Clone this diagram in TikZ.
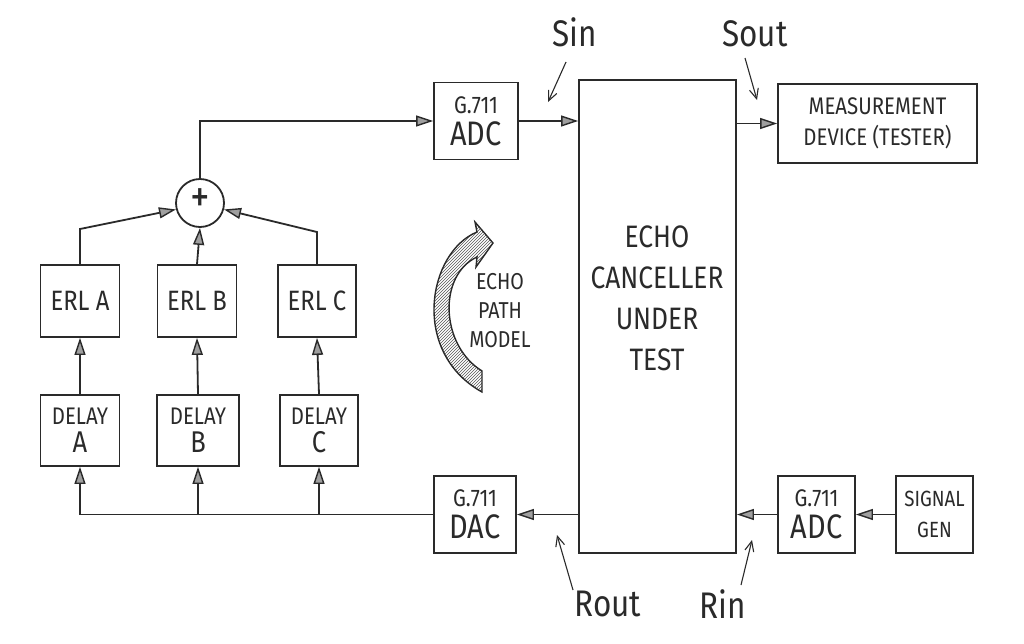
\documentclass[tikz,border=0pt]{standalone}
\usepackage{fontspec}
\setmainfont[FakeStretch=0.85]{Fira Sans}
\usetikzlibrary{arrows.meta,patterns}
\definecolor{ink}{HTML}{2A2A2A}
\begin{document}
\begin{tikzpicture}[x=1pt,y=-1pt,
  pencil/.style={draw=ink, line width=1.8pt},
  box/.style={pencil, align=center, inner sep=0pt, text=ink},
  arr/.style={pencil, -{Triangle[length=17pt,width=11pt,line width=1.4pt,fill=ink!45]}},
  ptr/.style={draw=ink, line width=1.1pt, -{Straight Barb[length=10pt,width=9pt]}},
  lbl/.style={text=ink, inner sep=0pt, font=\fontsize{37}{40}\selectfont},
]
\useasboundingbox (0,0) rectangle (1024,643);

% main blocks
\node[box, minimum width=84pt, minimum height=77pt] (adc1) at (476,121)
  {{\fontsize{24}{28}\selectfont G.711}\\[7pt]{\fontsize{34}{36}\selectfont ADC}};
\node[box, minimum width=157pt, minimum height=473pt] (ec) at (657.5,316.5)
  {};
\node[text=ink, align=center, font=\fontsize{31}{41}\selectfont] (ectext) at (657,298)
  {ECHO\\CANCELLER\\UNDER\\TEST};
\node[box, minimum width=199pt, minimum height=79pt, font=\fontsize{24}{31}\selectfont] (meas) at (877.5,123.5)
  {MEASUREMENT\\DEVICE (TESTER)};

\node[pencil, circle, minimum size=48pt, inner sep=0pt] (sum) at (200,203) {};
\node[text=ink, inner sep=0pt, font=\fontsize{46}{46}\selectfont] (plus) at (200,201) {+};

\node[box, minimum width=79pt, minimum height=72pt, font=\fontsize{28}{30}\selectfont] (erlA) at (80,301) {ERL A};
\node[box, minimum width=79pt, minimum height=72pt, font=\fontsize{28}{30}\selectfont] (erlB) at (197,301) {ERL B};
\node[box, minimum width=78pt, minimum height=72pt, font=\fontsize{28}{30}\selectfont] (erlC) at (317,301) {ERL C};

\node[box, minimum width=79pt, minimum height=71pt] (dA) at (80,430.5)
  {{\fontsize{24}{28}\selectfont DELAY}\\[6pt]{\fontsize{30}{32}\selectfont A}};
\node[box, minimum width=82pt, minimum height=71pt] (dB) at (198,430.5)
  {{\fontsize{24}{28}\selectfont DELAY}\\[6pt]{\fontsize{30}{32}\selectfont B}};
\node[box, minimum width=78pt, minimum height=71pt] (dC) at (319,430.5)
  {{\fontsize{24}{28}\selectfont DELAY}\\[6pt]{\fontsize{30}{32}\selectfont C}};

\node[box, minimum width=82pt, minimum height=77pt] (dac) at (475,514.5)
  {{\fontsize{24}{28}\selectfont G.711}\\[7pt]{\fontsize{34}{36}\selectfont DAC}};
\node[box, minimum width=77pt, minimum height=77pt] (adc2) at (816.5,514.5)
  {{\fontsize{24}{28}\selectfont G.711}\\[7pt]{\fontsize{34}{36}\selectfont ADC}};
\node[box, minimum width=77pt, minimum height=77pt, font=\fontsize{22}{31}\selectfont] (gen) at (934.5,514.5)
  {SIGNAL\\GEN};

% connectors
\draw[arr] (sum.north) |- (adc1.west);
\draw[arr] (adc1.east) -- (adc1.east -| ec.west);
\draw[arr] (ec.east |- meas.west) -- (meas.west);

\coordinate (kA) at (80,229);
\coordinate (kC) at (317,232);
\draw[arr] (erlA.north) -- (kA) -- (sum.195);
\draw[arr] (erlB.north) -- (sum.south);
\draw[arr] (erlC.north) -- (kC) -- (sum.345);

\draw[arr] (dA.north) -- (erlA.south);
\draw[arr] (dB.north) -- (erlB.south);
\draw[arr] (dC.north) -- (erlC.south);

\coordinate (jA) at (dA.south |- dac.west);
\coordinate (jB) at (dB.south |- dac.west);
\coordinate (jC) at (dC.south |- dac.west);
\draw[pencil] (dac.west) -- (jA);
\draw[arr] (jA) -- (dA.south);
\draw[arr] (jB) -- (dB.south);
\draw[arr] (jC) -- (dC.south);

\draw[arr] (ec.west |- dac.east) -- (dac.east);
\draw[arr] (adc2.west) -- (adc2.west -| ec.east);
\draw[arr] (gen.west) -- (adc2.east);

% port labels
\node[lbl] (sin) at (575,32) {Sin};
\node[lbl] (sout) at (755,34) {Sout};
\node[lbl] (rout) at (608,604) {Rout};
\node[lbl] (rin) at (723,604) {Rin};
\coordinate (sinA) at (566,62);  \coordinate (sinB) at (548,102);
\coordinate (soutA) at (745,58); \coordinate (soutB) at (757,100);
\coordinate (routA) at (573,590); \coordinate (routB) at (557,535);
\coordinate (rinA) at (741,585); \coordinate (rinB) at (752,540);
\draw[ptr] (sinA) -- (sinB);
\draw[ptr] (soutA) -- (soutB);
\draw[ptr] (routA) -- (routB);
\draw[ptr] (rinA) -- (rinB);

% echo path model arrow
\draw[pencil, line width=1.4pt, pattern=north east lines, pattern color=ink!80]
  (477,232) .. controls (428,252) and (410,352) .. (482,392)
  -- (482,371) .. controls (440,345) and (438,275) .. (477,257)
  -- (476,267) -- (493,243) -- (475,222) -- cycle;
\node[text=ink, align=center, font=\fontsize{23}{29}\selectfont] (epm) at (500,311)
  {ECHO\\PATH\\MODEL};
\end{tikzpicture}
\end{document}
